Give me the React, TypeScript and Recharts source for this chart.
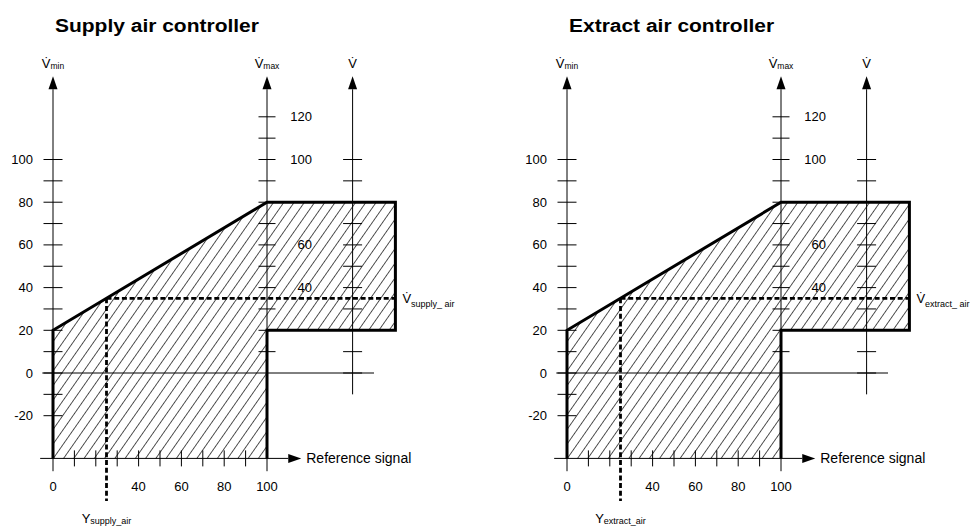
import React from 'react';
import { ComposedChart, XAxis, YAxis, Area, Line, Scatter, ReferenceLine } from 'recharts';

// Operating range of the controller (reference signal in %, volume flow in %)
const regionX = [0, 100, 100, 160];
const regionLow = [-40, -40, 20, 20];
const regionHigh = [20, 80, 80, 80];

// Thick outline of the range
const outlineX = [0, 0, 100, 160, 160, 100, 100];
const outlineY = [-40, 20, 80, 80, 20, 20, -40];

// Working point: reference signal Y -> volume flow V
const workX = 25;
const workV = 35;
const workLineEndX = 160;
const workLineEndY = -60;

// Axes (positions in chart units)
const vminAxisX = 0;
const vmaxAxisX = 100;
const vAxisX = 140;
const axisTop = 139;
const axisBottom = -46;
const vAxisBottom = -10;
const refAxisY = -40;
const refAxisStart = -6;
const refAxisEnd = 116;
const zeroStart = -5;
const zeroEnd = 150;
const axisNameY = 143;

const vminTicks = [100, 90, 80, 70, 60, 50, 40, 30, 20, 10, 0, -10, -20];
const vminLabels = [100, 80, 60, 40, 20, 0, -20];
const vmaxTicks = [120, 110, 100, 90, 80, 70, 60, 50, 40, 30, 20, 10];
const vmaxLabels = [120, 100, 60, 40];
const vTicks = [100, 90, 80, 70, 60, 50, 40, 30, 20, 10, 0];
const refTicks = [10, 20, 30, 40, 50, 60, 70, 80, 90];
const refLabels = [0, 40, 60, 80, 100];

const titles = ['Supply air controller', 'Extract air controller'];
const flowSubs = ['supply_ air', 'extract_ air'];
const signalSubs = ['supply_air', 'extract_air'];

const FONT = '"Liberation Sans", Arial, Helvetica, sans-serif';
const VDOT = 'V\u0307';

const pts = (xs: number[], ys: number[]) => xs.map((x, i) => ({ x, y: ys[i] }));

const hTick = (half: number) => (p: any) => (
  <line x1={p.cx - half} x2={p.cx + half} y1={p.cy} y2={p.cy} stroke="#000" strokeWidth={1} />
);
const vTick = (half: number) => (p: any) => (
  <line x1={p.cx} x2={p.cx} y1={p.cy - half} y2={p.cy + half} stroke="#000" strokeWidth={1} />
);

const arrowLine = (props: any) => {
  const { x1, y1, x2, y2 } = props;
  const dx = x2 - x1;
  const dy = y2 - y1;
  const len = Math.hypot(dx, dy) || 1;
  const ux = dx / len;
  const uy = dy / len;
  const L = 13;
  const W = 4.5;
  const bx = x2 - ux * L;
  const by = y2 - uy * L;
  return (
    <g>
      <line x1={x1} y1={y1} x2={bx} y2={by} stroke="#000" strokeWidth={1} />
      <polygon
        points={`${x2},${y2} ${bx - uy * W},${by + ux * W} ${bx + uy * W},${by - ux * W}`}
        fill="#000"
      />
    </g>
  );
};

const axisName = (sub: string) => (p: any) => (
  <text x={p.cx} y={p.cy} textAnchor="middle" fontFamily={FONT} fill="#000">
    <tspan fontSize={13}>{VDOT}</tspan>
    {sub && (
      <tspan fontSize={8.5} dy={1}>
        {sub}
      </tspan>
    )}
  </text>
);

function Panel({ idx }: { idx: number }) {
  const patternId = `hatch-${idx}`;
  const regionRows = regionX.map((x, i) => ({ x, range: [regionLow[i], regionHigh[i]] }));
  const outline = pts(outlineX, outlineY);
  const workH = [
    { x: workX, y: workV },
    { x: workLineEndX, y: workV },
  ];
  const workVert = [
    { x: workX, y: workV },
    { x: workX, y: workLineEndY },
  ];

  return (
    <ComposedChart
      width={460}
      height={527}
      data={regionRows}
      margin={{ top: 42.08, right: 32.5, bottom: 0.28, left: 31.6 }}
    >
      <defs>
        <pattern
          id={patternId}
          patternUnits="userSpaceOnUse"
          width={8.4}
          height={8.4}
          patternTransform="rotate(35)"
        >
          <line x1={4.2} y1={-1} x2={4.2} y2={9.4} stroke="#2a2a2a" strokeWidth={0.8} />
        </pattern>
      </defs>
      <XAxis type="number" dataKey="x" domain={[-10, 175]} hide />
      <YAxis type="number" dataKey="y" domain={[-72, 155]} hide />

      <Area
        type="linear"
        dataKey="range"
        stroke="none"
        fill={`url(#${patternId})`}
        fillOpacity={1}
        dot={false}
        activeDot={false}
        isAnimationActive={false}
      />

      <ReferenceLine
        segment={[{ x: zeroStart, y: 0 }, { x: zeroEnd, y: 0 }]}
        stroke="#000"
        strokeWidth={1}
      />
      <ReferenceLine
        segment={[{ x: vminAxisX, y: axisBottom }, { x: vminAxisX, y: axisTop }]}
        shape={arrowLine}
      />
      <ReferenceLine
        segment={[{ x: vmaxAxisX, y: axisBottom }, { x: vmaxAxisX, y: axisTop }]}
        shape={arrowLine}
      />
      <ReferenceLine
        segment={[{ x: vAxisX, y: vAxisBottom }, { x: vAxisX, y: axisTop }]}
        shape={arrowLine}
      />
      <ReferenceLine
        segment={[{ x: refAxisStart, y: refAxisY }, { x: refAxisEnd, y: refAxisY }]}
        shape={arrowLine}
      />

      <Scatter
        data={vminTicks.map((y) => ({ x: vminAxisX, y }))}
        shape={hTick(9.5)}
        isAnimationActive={false}
      />
      <Scatter
        data={vmaxTicks.map((y) => ({ x: vmaxAxisX, y }))}
        shape={hTick(8.5)}
        isAnimationActive={false}
      />
      <Scatter
        data={vTicks.map((y) => ({ x: vAxisX, y }))}
        shape={hTick(9.5)}
        isAnimationActive={false}
      />
      <Scatter
        data={refTicks.map((x) => ({ x, y: refAxisY }))}
        shape={vTick(8)}
        isAnimationActive={false}
      />

      <Line
        type="linear"
        data={outline}
        dataKey="y"
        stroke="#000"
        strokeWidth={3}
        dot={false}
        activeDot={false}
        isAnimationActive={false}
      />
      <Line
        type="linear"
        data={workH}
        dataKey="y"
        stroke="#000"
        strokeWidth={2.8}
        strokeDasharray="5 2.7"
        dot={false}
        activeDot={false}
        isAnimationActive={false}
      />
      <Line
        type="linear"
        data={workVert}
        dataKey="y"
        stroke="#000"
        strokeWidth={2.8}
        strokeDasharray="5 2.7"
        dot={false}
        activeDot={false}
        isAnimationActive={false}
      />

      {/* tick labels */}
      <Scatter
        data={vminLabels.map((y) => ({ x: vminAxisX, y }))}
        isAnimationActive={false}
        shape={(p: any) => (
          <text x={p.cx - 20} y={p.cy} dy="0.35em" textAnchor="end" fontSize={13} fontFamily={FONT} fill="#000">
            {p.payload.y}
          </text>
        )}
      />
      <Scatter
        data={vmaxLabels.map((y) => ({ x: vmaxAxisX, y }))}
        isAnimationActive={false}
        shape={(p: any) => (
          <text x={p.cx + 45} y={p.cy} dy="0.35em" textAnchor="end" fontSize={13} fontFamily={FONT} fill="#000">
            {p.payload.y}
          </text>
        )}
      />
      <Scatter
        data={refLabels.map((x) => ({ x, y: refAxisY }))}
        isAnimationActive={false}
        shape={(p: any) => (
          <text x={p.cx} y={p.cy + 28} dy="0.35em" textAnchor="middle" fontSize={13} fontFamily={FONT} fill="#000">
            {p.payload.x}
          </text>
        )}
      />

      {/* axis names */}
      <Scatter data={[{ x: vminAxisX, y: axisNameY }]} shape={axisName('min')} isAnimationActive={false} />
      <Scatter data={[{ x: vmaxAxisX, y: axisNameY }]} shape={axisName('max')} isAnimationActive={false} />
      <Scatter data={[{ x: vAxisX, y: axisNameY }]} shape={axisName('')} isAnimationActive={false} />
      <Scatter
        data={[{ x: refAxisEnd, y: refAxisY }]}
        isAnimationActive={false}
        shape={(p: any) => (
          <text x={p.cx + 5} y={p.cy} dy="0.35em" fontSize={14} fontFamily={FONT} fill="#000">
            Reference signal
          </text>
        )}
      />
      <Scatter
        data={[{ x: workLineEndX, y: workV }]}
        isAnimationActive={false}
        shape={(p: any) => (
          <text x={p.cx + 7} y={p.cy + 5} fontFamily={FONT} fill="#000">
            <tspan fontSize={13}>{VDOT}</tspan>
            <tspan fontSize={9} dy={4}>
              {flowSubs[idx]}
            </tspan>
          </text>
        )}
      />
      <Scatter
        data={[{ x: workX, y: workLineEndY }]}
        isAnimationActive={false}
        shape={(p: any) => (
          <text x={p.cx} y={p.cy + 22} textAnchor="middle" fontFamily={FONT} fill="#000">
            <tspan fontSize={13}>Y</tspan>
            <tspan fontSize={9} dy={1}>
              {signalSubs[idx]}
            </tspan>
          </text>
        )}
      />
    </ComposedChart>
  );
}

export default function App() {
  const offsets = [0, 513.5];
  return (
    <div
      style={{
        position: 'absolute',
        left: 0,
        top: 0,
        width: 970,
        height: 527,
        overflow: 'hidden',
        background: '#fff',
      }}
    >
      {offsets.map((left, i) => (
        <div key={i} style={{ position: 'absolute', left, top: 0, width: 460, height: 527 }}>
          <div
            style={{
              position: 'absolute',
              left: 55,
              top: 16.5,
              fontFamily: FONT,
              fontWeight: 'bold',
              fontSize: 18,
              lineHeight: '18px',
              whiteSpace: 'nowrap',
              transform: 'scaleX(1.165)',
              transformOrigin: 'left top',
              color: '#000',
            }}
          >
            {titles[i]}
          </div>
          <Panel idx={i} />
        </div>
      ))}
    </div>
  );
}
